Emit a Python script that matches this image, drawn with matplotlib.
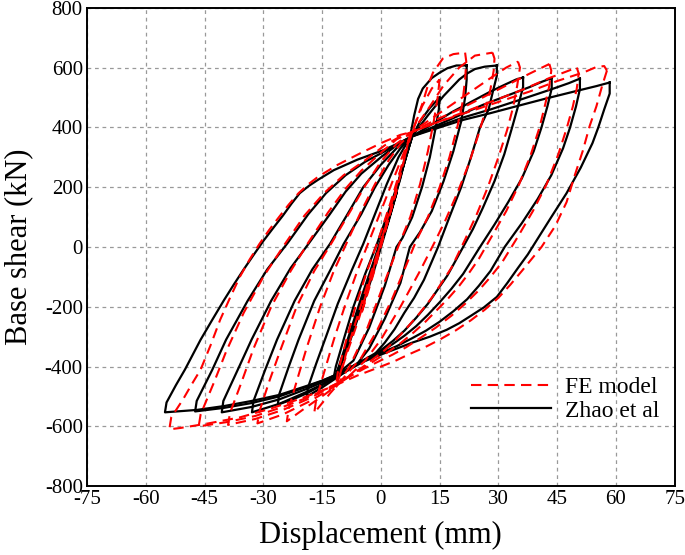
import matplotlib
matplotlib.use("Agg")
import matplotlib.pyplot as plt
import numpy as np

# displacement (mm), base shear (kN) key points
# each loop: positive peak -> unloading -> negative peak -> reloading -> positive peak

# Zhao et al (test)
zhao_s1 = [(4, 180), (2.5, 110), (0.5, 20), (-2, -90), (-5, -210), (-3.5, -140), (-1, -30), (1.5, 70), (4, 180)]
zhao_s2 = [(7.5, 365), (6, 290), (4, 195), (2, 105), (0, 15), (-2.5, -95), (-5.5, -220), (-8.5, -330), (-11, -425),
           (-9.5, -365), (-7, -260), (-4, -140), (-1, -25), (2, 95), (5, 230), (7.5, 365)]
zhao_s3 = [(8, 370), (6.5, 305), (4.5, 210), (2.5, 120), (0.5, 30), (-2, -80), (-5, -205), (-8, -320), (-11.5, -430),
           (-10, -370), (-7.5, -270), (-4.5, -150), (-1.5, -35), (1.5, 85), (4.5, 215), (8, 370)]
zhao_15 = [(15, 500), (14.8, 460), (14, 400), (12.5, 300), (10.5, 200), (8, 100), (5.5, 30), (4, 0), (1, -130),
           (-3, -270), (-7, -380), (-12, -435),
           (-11.5, -400), (-9.5, -310), (-7, -200), (-4, -90), (-1, 10), (2, 120), (5, 240), (8, 370), (10, 420),
           (12.5, 465), (15, 500)]
zhao_22 = [(21.9, 607), (21.9, 560), (21.5, 500), (20.5, 420), (18.5, 320), (16, 220), (13, 120), (10, 50), (7.4, 0),
           (5, -120), (1, -240), (-3, -340), (-6, -390), (-11, -435), (-15, -470), (-18.9, -500),
           (-18.6, -470), (-16.5, -390), (-14, -300), (-11, -190), (-7.5, -80), (-4.5, 10), (-1.5, 110), (1.5, 210),
           (4.5, 300), (7.4, 365), (8.5, 440), (9.5, 495), (10.7, 530), (13, 565), (15, 583), (17, 598), (19.3, 607),
           (21.9, 607)]
zhao_29 = [(29.6, 607), (29.6, 573), (28.5, 515), (27.5, 460), (25.3, 400), (23, 300), (20.5, 200), (17.5, 100),
           (14.6, 0), (11, -110), (8.5, -170), (6, -220), (3.5, -275), (1, -320), (-2, -365), (-6, -395), (-11, -432),
           (-15, -462), (-19, -490), (-22.5, -510), (-26.3, -527),
           (-26, -495), (-23.5, -400), (-21, -310), (-17, -180), (-13, -80), (-9.5, 10), (-5, 110), (-1.5, 200),
           (2, 275), (5, 330), (8, 370), (10, 405), (12, 440), (16, 505), (20, 560), (22, 580), (24, 595), (26.5, 603),
           (29.6, 607)]
zhao_36 = [(36.3, 567), (36.3, 535), (35, 470), (33.5, 400), (31.5, 310), (29, 220), (26, 130), (23.5, 60), (21, 0),
           (17, -95), (12, -190), (9, -237), (6, -280), (3, -315), (0, -345), (-6, -390), (-11, -430), (-15, -460),
           (-19, -485), (-26, -525), (-32.9, -553),
           (-32.5, -515), (-29.5, -410), (-26.5, -310), (-22, -180), (-17.5, -75), (-13, 10), (-8.5, 110),
           (-4.5, 200), (0, 275), (4, 330), (8, 370), (13, 410), (18, 450), (23, 485), (28, 520), (32, 545),
           (34.5, 560), (36.3, 567)]
zhao_44 = [(43.6, 565), (43.6, 530), (42.5, 470), (41, 400), (39, 320), (36, 230), (32.5, 150), (29, 75), (25.3, 0),
           (21, -90), (18, -140), (15, -185), (12, -227), (9, -265), (6, -297), (3, -325), (0, -350), (-6, -390),
           (-11, -428), (-15, -453), (-19, -475), (-26, -510), (-33, -535), (-40.6, -553),
           (-40.2, -515), (-36.5, -410), (-33, -310), (-28, -180), (-23, -70), (-18.5, 10), (-13, 110), (-9, 185),
           (-5, 245), (0, 300), (4, 340), (8, 370), (14, 405), (20, 440), (26, 475), (32, 505), (38, 535),
           (41, 552), (43.6, 565)]
zhao_51 = [(50.8, 563), (50.8, 528), (49.8, 470), (48.3, 400), (46.5, 330), (43.5, 240), (40, 160), (36, 80),
           (31.6, 0), (28, -80), (25, -130), (22, -175), (18.5, -215), (15, -250), (11.5, -280), (8, -305),
           (4, -332), (0, -355), (-6, -390), (-11, -425), (-15, -448), (-19, -468), (-26, -500), (-33, -522),
           (-40, -538), (-47.4, -550),
           (-47, -515), (-43, -410), (-39.5, -310), (-34, -180), (-29, -75), (-23.7, 15), (-18.5, 110), (-14, 180),
           (-9, 240), (-4, 285), (1, 320), (5, 350), (8, 370), (15, 405), (21, 433), (28, 460), (35, 490),
           (43, 525), (48, 548), (50.8, 563)]
zhao_58 = [(58.4, 550), (58.4, 513), (57, 460), (55.5, 400), (54, 347), (51, 265), (47.4, 180), (43.5, 100),
           (39.8, 23), (37.5, -25), (35, -70), (32.3, -120), (29.6, -167), (26.3, -202), (23, -230), (20, -255),
           (16.8, -277), (12.5, -300), (8, -320), (4, -340), (0, -360), (-6, -392), (-11, -425), (-15, -447),
           (-19, -465), (-26, -495), (-33, -515), (-40, -532), (-47, -545), (-55.1, -553),
           (-54.7, -520), (-52.3, -462), (-50, -410), (-48, -360), (-46, -310), (-43, -243), (-40, -177),
           (-37.5, -125), (-35, -75), (-32.5, -27), (-30, 20), (-27.5, 63), (-25, 105), (-22.8, 145), (-20.7, 180),
           (-18.3, 205), (-16, 225), (-12, 257), (-6, 292), (0.5, 323), (5, 350), (8, 370), (15, 400), (21, 425),
           (27.8, 447), (35, 472), (42.3, 497), (50, 522), (55, 538), (58.4, 550)]

# FE model
fe_s1 = [(4, 190), (2.5, 120), (0.5, 25), (-2, -95), (-5, -225), (-3.5, -150), (-1, -35), (1.5, 75), (4, 190)]
fe_s2 = [(7.5, 380), (6, 305), (4, 205), (2, 110), (0, 15), (-2.5, -100), (-5.5, -235), (-8.5, -350), (-11, -450),
         (-9.5, -385), (-7, -275), (-4, -150), (-1, -25), (2, 100), (5, 240), (7.5, 380)]
fe_15 = [(15, 560), (14.5, 500), (13.5, 420), (12, 320), (10, 210), (7.5, 100), (5, 20), (3.5, -30), (0, -150),
         (-4, -290), (-8, -400), (-11.5, -470),
         (-11, -420), (-9, -320), (-6.5, -200), (-3.5, -80), (-0.5, 30), (2.5, 150), (5.5, 280), (8, 385),
         (10.5, 470), (13, 530), (15, 560)]
fe_22 = [(21.5, 650), (21.8, 620), (21.5, 560), (20.8, 480), (19.5, 400), (17.5, 300), (15, 200), (12, 100),
         (9, 20), (6.5, -60), (3, -170), (-1, -280), (-5, -370), (-9, -430), (-13, -490), (-17, -555),
         (-16.5, -510), (-14.5, -420), (-12, -310), (-9, -190), (-6, -80), (-3, 20), (0, 120), (3, 220), (6, 320),
         (8, 385), (9.5, 440), (10.7, 483), (12, 540), (13.3, 583), (15.8, 630), (18.5, 645), (21.5, 650)]
fe_29 = [(28.5, 650), (29, 630), (28.8, 590), (28, 530), (26.8, 460), (25, 380), (22.5, 280), (19.5, 180),
         (16.5, 90), (13.5, 10), (10, -80), (7.5, -140), (5, -200), (2.5, -255), (0, -310), (-4, -380), (-8, -430),
         (-14, -490), (-20, -545), (-24, -583),
         (-23.5, -540), (-21.5, -450), (-19, -340), (-15.5, -200), (-12, -80), (-8.5, 20), (-5, 120), (-1.5, 210),
         (2, 290), (5, 345), (8, 385), (12, 460), (16, 540), (20, 600), (24, 640), (28.5, 650)]
fe_35 = [(35, 620), (35.5, 600), (34.8, 540), (33.8, 470), (32.2, 390), (30, 300), (27.3, 200), (24.5, 110),
         (21.5, 25), (18, -70), (15.5, -120), (13, -170), (10, -220), (7, -265), (4, -308), (1, -345), (-5, -405),
         (-11, -460), (-18, -515), (-25, -560), (-31.5, -590),
         (-31, -550), (-28.5, -450), (-25.5, -340), (-21.5, -200), (-17, -80), (-12.5, 15), (-8, 115), (-4, 205),
         (0, 285), (4, 345), (8, 385), (13, 430), (18, 475), (23, 520), (28, 565), (32, 600), (35, 620)]
fe_43 = [(43, 612), (43.5, 590), (43, 540), (42, 480), (40.5, 400), (38.3, 310), (35.3, 210), (32, 120), (28.5, 40),
         (25, -40), (22.5, -87), (20, -130), (17, -175), (14, -215), (11, -255), (8, -290), (5, -322), (2, -350),
         (-4, -400), (-11, -455), (-18, -505), (-25, -545), (-32, -575), (-39, -595),
         (-38.5, -555), (-35.5, -450), (-32.5, -340), (-28, -200), (-23, -80), (-18.5, 15), (-13.5, 115),
         (-9, 195), (-5, 255), (0, 315), (4, 360), (8, 385), (14, 425), (20, 460), (26, 500), (32, 540), (38, 580),
         (43, 612)]
fe_50 = [(50, 600), (50.5, 580), (50, 530), (49, 470), (47.5, 400), (45.3, 310), (42.3, 210), (38.8, 120),
         (35, 35), (31, -50), (28, -100), (25, -145), (21.5, -190), (18, -230), (14, -270), (10, -305), (6.5, -335),
         (3, -360), (-4, -405), (-11, -455), (-18, -500), (-25, -535), (-32, -565), (-39, -585), (-46.5, -600),
         (-46, -560), (-42.5, -450), (-39.5, -350), (-35, -220), (-30, -100), (-25, 0), (-19.5, 105),
         (-14.5, 180), (-9.5, 240), (-4, 290), (1, 340), (5, 370), (8, 385), (15, 420), (22, 455), (29, 490),
         (36, 525), (43, 565), (47, 585), (50, 600)]
fe_57 = [(57.7, 590), (56.5, 540), (55, 470), (53.3, 405), (51.5, 320), (49.5, 240), (47.4, 150), (44.5, 70),
         (41, 0), (38.5, -40), (36, -80), (33, -127), (30, -170), (26.5, -210), (23, -245), (19, -280), (15, -310),
         (11, -337), (7, -360), (3.5, -382), (0, -400), (-6, -430), (-12, -465),
         (-20, -505), (-28, -540), (-36, -570), (-44, -590), (-51, -605), (-54, -610),
         (-53.5, -570), (-52, -540), (-50.5, -510), (-48.3, -460), (-46, -410), (-43.5, -330), (-41, -243),
         (-38.5, -170), (-36, -100), (-33.5, -42), (-31, 10), (-28.5, 57), (-26, 100), (-23.5, 142), (-21, 180),
         (-18.5, 210), (-16, 235), (-11, 275), (-5, 315), (0.5, 350), (5, 375), (8, 385), (15, 420), (22, 450),
         (30, 485), (38, 520), (45, 555), (52, 585), (55, 602), (57, 605), (57.7, 590)]

zhao_loops = [zhao_s1, zhao_s2, zhao_s3, zhao_15, zhao_22, zhao_29, zhao_36, zhao_44, zhao_51, zhao_58]
fe_loops = [fe_s1, fe_s2, fe_15, fe_22, fe_29, fe_35, fe_43, fe_50, fe_57]

x_ticks = np.arange(-75, 76, 15)
y_ticks = np.arange(-800, 801, 200)

plt.rcParams['font.family'] = ['Liberation Serif', 'DejaVu Serif']
plt.rcParams['axes.unicode_minus'] = False

fig = plt.figure(figsize=(6.85, 5.55), dpi=100)
ax = fig.add_axes([0.127, 0.124, 0.858, 0.862])

for i, loop in enumerate(zhao_loops):
    d, f = np.array(loop).T
    ax.plot(d, f, color='black', lw=1.6, solid_joinstyle='round',
            label='Zhao et al' if i == 0 else None, zorder=2)

for i, loop in enumerate(fe_loops):
    d, f = np.array(loop).T
    ax.plot(d, f, color='#ff0000', lw=1.5, dashes=(5, 3), dash_joinstyle='round',
            label='FE model' if i == 0 else None, zorder=3)

ax.set_xlim(-75, 75)
ax.set_ylim(-800, 800)
ax.set_xticks(x_ticks)
ax.set_yticks(y_ticks)
ax.tick_params(length=0, labelsize=15, pad=3)
ax.grid(True, color='#999999', ls=(0, (3, 3)), lw=0.9)
for s in ax.spines.values():
    s.set_linewidth(1.4)

ax.set_xlabel('Displacement (mm)', fontsize=22, labelpad=8)
ax.set_ylabel('Base shear (kN)', fontsize=22, labelpad=8)

h, l = ax.get_legend_handles_labels()
order = [l.index('FE model'), l.index('Zhao et al')]
leg = ax.legend([h[k] for k in order], [l[k] for k in order], loc='lower right',
                bbox_to_anchor=(0.99, 0.115), frameon=False, fontsize=17,
                handlelength=3.4, handletextpad=0.6, labelspacing=0.1, borderaxespad=0)

fig.savefig('out.png', dpi=100)
